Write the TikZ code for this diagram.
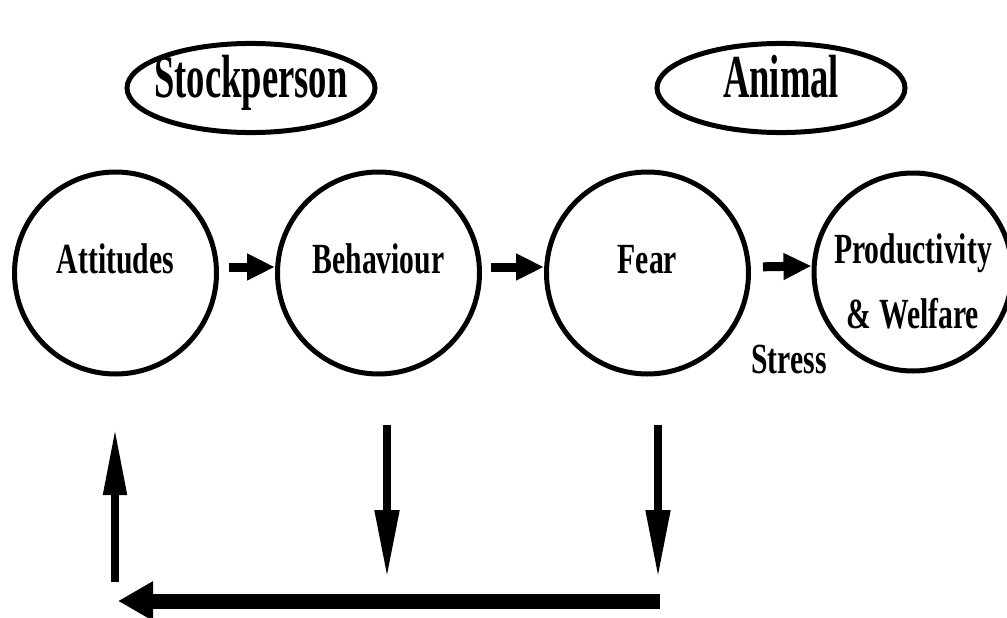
\documentclass[tikz,border=0pt]{standalone}
\usepackage{fontspec}
\usetikzlibrary{shapes.geometric,arrows.meta}
\newfontfamily\lblfont{Liberation Serif}[FakeStretch=0.69]
\newfontfamily\topfont{Liberation Serif}[FakeStretch=0.6]
\tikzset{
  bubble/.style={circle,draw=black,line width=5pt,minimum size=202pt,inner sep=0pt,
    font=\lblfont\bfseries\fontsize{43}{65}\selectfont,text height=30pt,text depth=30pt},
  actor/.style={ellipse,draw=black,line width=5pt,minimum width=248pt,minimum height=88pt,
    inner xsep=-10pt,inner ysep=0pt,
    font=\topfont\bfseries\fontsize{61}{61}\selectfont,text height=41pt,text depth=22pt},
  plain/.style={font=\lblfont\bfseries\fontsize{43}{50}\selectfont,inner sep=0pt},
  flow/.style={line width=9pt,-{Triangle[length=28pt,width=25pt]}},
  vflow/.style={line width=8pt,-{Triangle[length=68pt,width=23pt]}},
  hflow/.style={line width=15pt,-{Triangle[length=35pt,width=37pt]}}
}
\begin{document}
\begin{tikzpicture}[x=1pt,y=-1pt]
\useasboundingbox (0,0) rectangle (1007,618);
\fill[white] (0,0) rectangle (1007,618);
% top actors
\node[actor] (stock) at (251,88) {Stockperson};
\node[actor] (animal) at (781,88) {Animal};
% circles
\node[bubble] (att) at (115.5,273) {Attitudes};
\node[bubble] (beh) at (378.5,273) {Behaviour};
\node[bubble] (fear) at (647.5,273) {Fear};
\node[bubble,minimum size=198pt,text height=112pt,text depth=0pt,align=center] (prod) at (913,272) {Productivity\\\& Welfare};
\node[plain,anchor=base] (stress) at (789,373) {Stress};
% forward arrows
\draw[flow,shorten <=9.5pt] ([yshift=6pt]att.east) -- ([yshift=6pt]beh.west);
\draw[flow,shorten <=9pt] ([yshift=6pt]beh.east) -- ([yshift=6pt]fear.west);
\draw[flow,shorten <=12pt] ([yshift=6pt]fear.east) -- ([yshift=6pt]prod.west);
% feedback loop
\coordinate (upB) at (115,582);
\coordinate (upT) at (115,428);
\coordinate (behT) at (387,425);
\coordinate (behB) at (387,578);
\coordinate (fearT) at (658,425);
\coordinate (fearB) at (658,578);
\coordinate (hR) at (660,601);
\coordinate (hL) at (118,601);
\draw[vflow,-{Triangle[length=67pt,width=22pt]}] (upB) -- (upT);
\draw[vflow] (behT) -- (behB);
\draw[vflow] (fearT) -- (fearB);
\draw[hflow] (hR) -- (hL);
\end{tikzpicture}
\end{document}
